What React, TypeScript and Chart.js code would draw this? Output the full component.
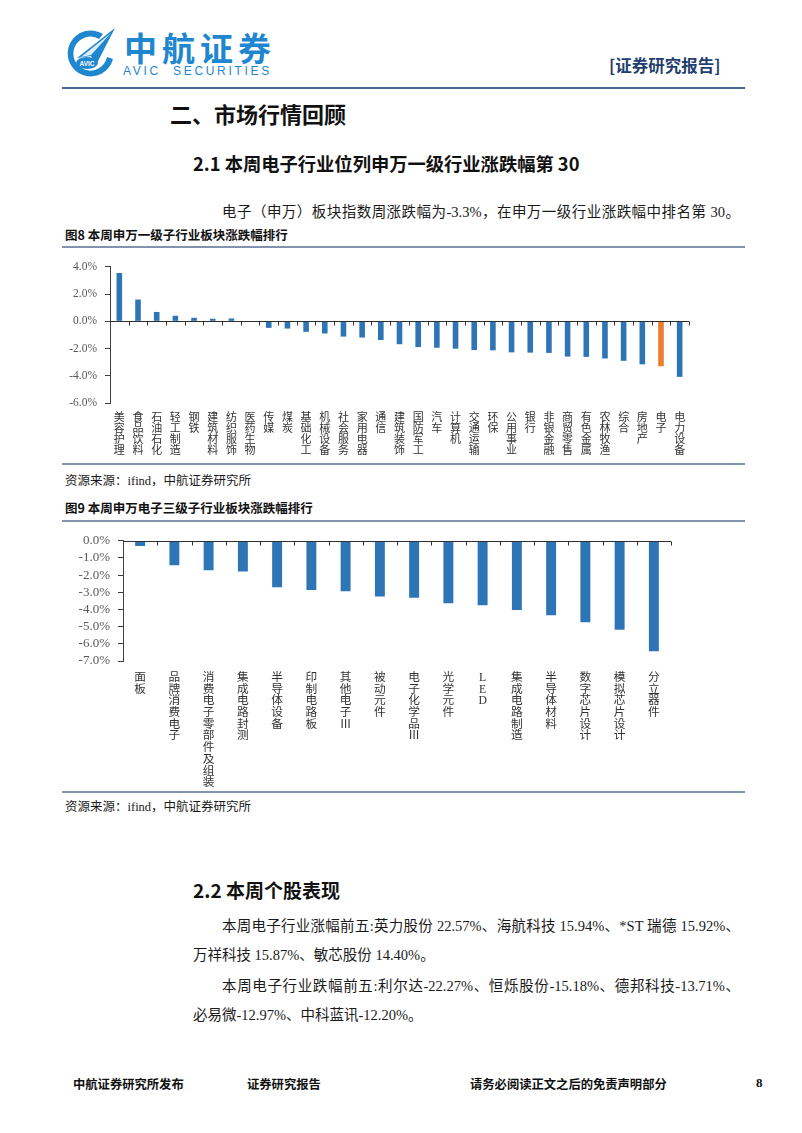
import React, { useEffect, useRef } from "react";
import { Chart, registerables } from "chart.js";

Chart.register(...registerables);

// ---------- Data ----------
const industryLabels = [
  "美容护理", "食品饮料", "石油石化", "轻工制造", "钢铁", "建筑材料", "纺织服饰", "医药生物",
  "传媒", "煤炭", "基础化工", "机械设备", "社会服务", "家用电器", "通信", "建筑装饰",
  "国防军工", "汽车", "计算机", "交通运输", "环保", "公用事业", "银行", "非银金融",
  "商贸零售", "有色金属", "农林牧渔", "综合", "房地产", "电子", "电力设备",
];
const industryChange = [
  3.55, 1.6, 0.69, 0.41, 0.26, 0.19, 0.21, -0.02,
  -0.48, -0.53, -0.77, -0.89, -1.12, -1.19, -1.37, -1.68,
  -1.89, -1.94, -2.01, -2.11, -2.13, -2.28, -2.3, -2.32,
  -2.59, -2.61, -2.73, -2.9, -3.16, -3.3, -4.08,
];
const highlightIndustry = "电子";
const industryTicks = { min: -6, max: 4, step: 2 };

const subLabels = [
  "面板", "品牌消费电子", "消费电子零部件及组装", "集成电路封测", "半导体设备", "印制电路板",
  "其他电子Ⅲ", "被动元件", "电子化学品Ⅲ", "光学元件", "LED", "集成电路制造", "半导体材料",
  "数字芯片设计", "模拟芯片设计", "分立器件",
];
const subChange = [
  -0.31, -1.42, -1.71, -1.79, -2.71, -2.86, -2.94, -3.24, -3.32, -3.63, -3.76, -4.03,
  -4.34, -4.74, -5.18, -6.43,
];
const subTicks = { min: -7, max: 0, step: 1 };

// ---------- Styles ----------
const BLUE = "#2E75B6";
const ORANGE = "#ED7D31";
const SERIF = "'Liberation Serif', 'Times New Roman', 'Noto Sans CJK SC', serif";
const CJK = "'Noto Sans CJK SC', 'Liberation Serif', sans-serif";

const zeroAxisPlugin = {
  id: "zeroAxis",
  afterDatasetsDraw(chart: any) {
    const { ctx, chartArea, scales } = chart;
    const xs = scales.x;
    const ys = scales.y;
    const y0 = Math.round(ys.getPixelForValue(0)) + 0.5;
    const n = chart.data.labels.length;
    ctx.save();
    ctx.strokeStyle = "#303030";
    ctx.lineWidth = 1;
    ctx.beginPath();
    ctx.moveTo(chartArea.left, y0);
    ctx.lineTo(chartArea.right, y0);
    for (let i = 1; i <= n; i++) {
      const px = Math.round(xs.getPixelForValue(i - 0.5)) + 0.5;
      ctx.moveTo(px, y0);
      ctx.lineTo(px, y0 + 4);
    }
    ctx.stroke();
    ctx.restore();
  },
};

type BarProps = {
  labels: string[];
  values: number[];
  colors: string[];
  ticks: { min: number; max: number; step: number };
  width: number;
  height: number;
  yAxisWidth: number;
  xAxisHeight: number;
  padTop: number;
  padRight: number;
  barPct: number;
  yFont: number;
  xFont: number;
  xPad: number;
};

function BarChart(p: BarProps) {
  const ref = useRef<HTMLCanvasElement | null>(null);
  useEffect(() => {
    if (!ref.current) return;
    const chart = new Chart(ref.current, {
      type: "bar",
      data: {
        labels: p.labels.map((l) => Array.from(l)),
        datasets: [
          {
            data: p.values,
            backgroundColor: p.colors,
            barPercentage: p.barPct,
            categoryPercentage: 1,
            borderWidth: 0,
          },
        ],
      },
      options: {
        animation: false,
        responsive: true,
        maintainAspectRatio: false,
        layout: { padding: { top: p.padTop, right: p.padRight, left: 0, bottom: 0 } },
        plugins: { legend: { display: false }, tooltip: { enabled: false } },
        scales: {
          x: {
            grid: { display: false, drawTicks: false },
            border: { display: false },
            ticks: {
              autoSkip: false,
              maxRotation: 0,
              minRotation: 0,
              padding: p.xPad,
              color: "#333333",
              font: { family: SERIF, size: p.xFont, lineHeight: 1.0 },
            },
            afterFit: (s: any) => {
              s.height = p.xAxisHeight;
            },
          },
          y: {
            min: p.ticks.min,
            max: p.ticks.max,
            border: { display: true, color: "#404040", width: 1 },
            grid: { drawOnChartArea: false, drawTicks: true, tickLength: 5, color: "#404040" },
            ticks: {
              stepSize: p.ticks.step,
              autoSkip: false,
              padding: 8,
              color: "#595959",
              font: { family: SERIF, size: p.yFont },
              callback: (v: any) => Number(v).toFixed(1) + "%",
            },
            afterFit: (s: any) => {
              s.width = p.yAxisWidth;
            },
          },
        },
      },
      plugins: [zeroAxisPlugin],
    });
    return () => chart.destroy();
  }, []);
  return (
    <div style={{ position: "relative", width: p.width, height: p.height }}>
      <canvas ref={ref} />
    </div>
  );
}

const abs = (left: number, top: number, extra: React.CSSProperties = {}): React.CSSProperties => ({
  position: "absolute",
  left,
  top,
  whiteSpace: "nowrap",
  ...extra,
});

function Logo() {
  return (
    <svg width={56} height={52} viewBox="0 0 56 52" style={abs(63, 25)}>
      <path d="M40 9 A23 23 0 1 0 50 34 L44 32 A17 17 0 1 1 36 14 Z" fill="#1f87cf" />
      <path d="M14 33 L52 3 L33 40 L28 31 Z" fill="#1f87cf" />
      <path d="M18 32 L48 8 L28 30 Z" fill="#ffffff" opacity={0.85} />
      <ellipse cx={24} cy={38} rx={11} ry={6} fill="#1f87cf" />
      <text x={24} y={40.5} fontSize={6.5} fontFamily="'Liberation Sans', Arial" fontWeight={700} fill="#ffffff" textAnchor="middle">
        AVIC
      </text>
    </svg>
  );
}

export default function App() {
  const industryColors = industryLabels.map((l) => (l === highlightIndustry ? ORANGE : BLUE));
  const subColors = subLabels.map(() => BLUE);
  const line = (top: number, h: number, color: string): React.CSSProperties => ({
    position: "absolute",
    left: 62,
    top,
    width: 683,
    height: h,
    background: color,
  });
  const body: React.CSSProperties = { fontFamily: SERIF, fontSize: 14.5, color: "#1a1a1a" };
  const bold: React.CSSProperties = { fontFamily: CJK, fontWeight: 700, color: "#111" };
  const just: React.CSSProperties = { width: 518, textAlign: "justify", textAlignLast: "justify" };

  return (
    <div
      style={{
        position: "absolute",
        left: 0,
        top: 0,
        width: 802,
        height: 1133,
        background: "#ffffff",
        overflow: "hidden",
      }}
    >
      <Logo />
      <div style={abs(124, 23, { fontFamily: CJK, fontWeight: 700, fontSize: 33, color: "#1f87cf", letterSpacing: 5 })}>
        中航证券
      </div>
      <div
        style={abs(123, 64, {
          fontFamily: "'Liberation Sans', Arial",
          fontSize: 12,
          color: "#1f87cf",
          letterSpacing: 2.7,
        })}
      >
        AVIC&nbsp;&nbsp;SECURITIES
      </div>
      <div style={abs(609, 53, { ...bold, fontSize: 16.5, color: "#1f3f6e" })}>[证券研究报告]</div>
      <div style={line(87, 2, "#46688f")} />

      <div style={abs(170, 97, { ...bold, fontSize: 22 })}>二、市场行情回顾</div>
      <div style={abs(193, 150, { ...bold, fontSize: 18.3 })}>2.1 本周电子行业位列申万一级行业涨跌幅第 30</div>
      <div style={abs(222, 200, { ...body, ...just })}>
        电子（申万）板块指数周涨跌幅为-3.3%，在申万一级行业涨跌幅中排名第 30。
      </div>

      <div style={abs(65, 225, { ...bold, fontSize: 12.5 })}>图8 本周申万一级子行业板块涨跌幅排行</div>
      <div style={line(246, 2, "#8193ad")} />
      <div style={abs(62, 252)}>
        <BarChart
          labels={industryLabels}
          values={industryChange}
          colors={industryColors}
          ticks={industryTicks}
          width={638}
          height={210}
          yAxisWidth={48}
          xAxisHeight={59}
          padTop={11}
          padRight={11}
          barPct={0.3}
          yFont={11.5}
          xFont={11}
          xPad={10}
        />
      </div>
      <div style={line(463, 2, "#8193ad")} />
      <div style={abs(65, 470, { ...body, fontSize: 12.5 })}>资源来源：ifind，中航证券研究所</div>

      <div style={abs(65, 498, { ...bold, fontSize: 12.5 })}>图9 本周申万电子三级子行业板块涨跌幅排行</div>
      <div style={line(520, 2, "#8193ad")} />
      <div style={abs(62, 525)}>
        <BarChart
          labels={subLabels}
          values={subChange}
          colors={subColors}
          ticks={subTicks}
          width={638}
          height={265}
          yAxisWidth={61}
          xAxisHeight={129}
          padTop={14}
          padRight={29}
          barPct={0.29}
          yFont={13}
          xFont={11.7}
          xPad={11}
        />
      </div>
      <div style={line(791, 2, "#8193ad")} />
      <div style={abs(65, 796, { ...body, fontSize: 12.5 })}>资源来源：ifind，中航证券研究所</div>

      <div style={abs(193, 876, { ...bold, fontSize: 19 })}>2.2 本周个股表现</div>
      <div style={abs(222, 914, { ...body, ...just })}>
        本周电子行业涨幅前五:英力股份 22.57%、海航科技 15.94%、*ST 瑞德 15.92%、
      </div>
      <div style={abs(193, 943, body)}>万祥科技 15.87%、敏芯股份 14.40%。</div>
      <div style={abs(222, 974, { ...body, ...just })}>
        本周电子行业跌幅前五:利尔达-22.27%、恒烁股份-15.18%、德邦科技-13.71%、
      </div>
      <div style={abs(193, 1003, body)}>必易微-12.97%、中科蓝讯-12.20%。</div>

      <div style={abs(73, 1075, { ...bold, fontSize: 12.3 })}>中航证券研究所发布</div>
      <div style={abs(247, 1075, { ...bold, fontSize: 12.3 })}>证券研究报告</div>
      <div style={abs(470, 1075, { ...bold, fontSize: 12.3 })}>请务必阅读正文之后的免责声明部分</div>
      <div style={abs(756, 1075, { ...bold, fontSize: 13, fontFamily: SERIF })}>8</div>
    </div>
  );
}
